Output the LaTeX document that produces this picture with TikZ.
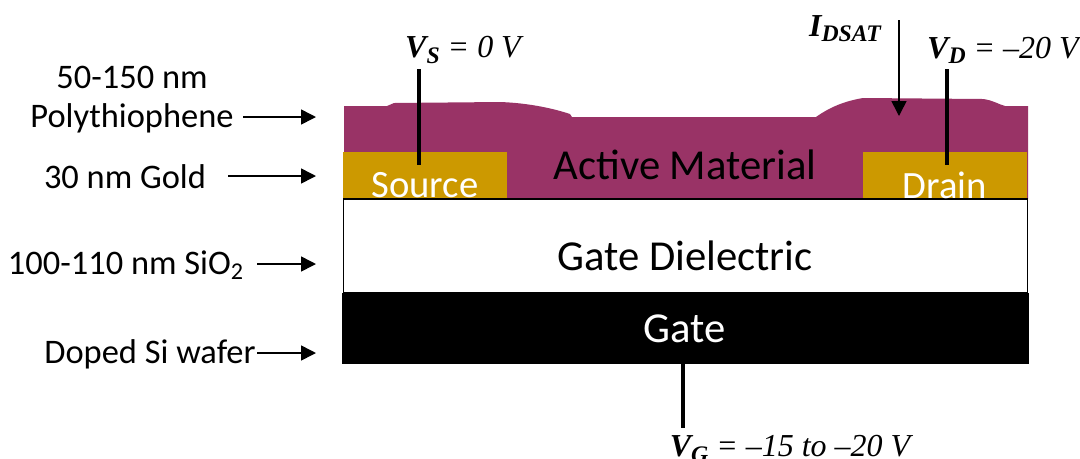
\documentclass[tikz,border=0pt]{standalone}
\usepackage{fontspec}
\usetikzlibrary{arrows.meta}
\setmainfont{Carlito}
\newfontfamily\volt{Liberation Serif}
\newcommand{\voltsub}[1]{\raisebox{-0.35ex}{\fontsize{13.5}{15}\selectfont\bfseries\itshape #1}}
\definecolor{polymer}{HTML}{993366}
\definecolor{gold}{HTML}{CC9900}
\tikzset{
	layerlabel/.style={inner sep=0pt, font=\fontsize{19.6}{22}\selectfont},
	devicelabel/.style={inner sep=0pt, font=\fontsize{24.3}{28}\selectfont},
	contactlabel/.style={inner sep=0pt, text=white, font=\fontsize{22}{26}\selectfont},
	voltlabel/.style={inner sep=0pt, font=\fontsize{18.2}{22}\selectfont\volt\itshape},
	goldbox/.style={shape=rectangle, fill=gold, minimum width=164*0.02cm, minimum height=47*0.02cm, inner sep=0pt},
	pointer/.style={-{Triangle[length=8.5pt,width=8.5pt]}, line width=0.9pt},
	wire/.style={-, line width=2.2pt}
}
\begin{document}
\begin{tikzpicture}[x=0.02cm, y=-0.02cm]
	\useasboundingbox (0, 0) rectangle (1080, 458);
	
	% polymer film
	\fill[polymer] (344, 106) -- (387, 106) -- (394, 103) -- (500, 102)
		.. controls (530, 103) and (555, 109) .. (570, 114) -- (572, 117) -- (816, 117)
		.. controls (830, 107) and (845, 101) .. (863, 98) -- (983, 99)
		.. controls (992, 100) and (998, 104) .. (1005, 106) -- (1028, 106)
		-- (1028, 199) -- (344, 199) -- cycle;
	
	\node[goldbox] (source) at (425, 175.5) {};
	\node[goldbox] (drain) at (945, 175.5) {};
	\node[shape=rectangle, draw=black, line width=0.7pt, fill=white, minimum width=684*0.02cm, minimum height=94*0.02cm, inner sep=0pt] (dielectric) at (685.5, 246) {};
	\node[shape=rectangle, fill=black, minimum width=687*0.02cm, minimum height=71*0.02cm, inner sep=0pt] (gate) at (685.5, 328.5) {};
	
	\node[contactlabel] (sourcetext) at (425, 185.5) {Source};
	\node[contactlabel] (draintext) at (945, 185.5) {Drain};
	\node[devicelabel] (activetext) at (685, 165) {Active Material};
	\node[devicelabel] (dielectrictext) at (685, 256) {Gate Dielectric};
	\node[devicelabel, text=white] (gatetext) at (685, 329) {Gate};
	
	\node[layerlabel] (thick) at (132, 77) {50-150 nm};
	\node[layerlabel] (poly) at (132, 118) {Polythiophene};
	\node[layerlabel] (goldtext) at (125, 177) {30 nm Gold};
	\node[layerlabel] (oxide) at (126, 265) {100-110 nm SiO\textsubscript{2}};
	\node[layerlabel] (wafer) at (150, 354) {Doped Si wafer};
	
	\node[voltlabel] (vs) at (463, 50) {{\bfseries V}\voltsub{S} = 0 V};
	\node[voltlabel] (vd) at (1003, 50) {{\bfseries V}\voltsub{D} = –20 V};
	\node[voltlabel] (vg) at (790, 449) {{\bfseries V}\voltsub{G} = –15 to –20 V};
	\node[voltlabel] (idsat) at (845, 29) {{\bfseries I}\voltsub{DSAT}};
	
	\coordinate (polystart) at (243, 117);
	\coordinate (polyend) at (316, 117);
	\coordinate (goldstart) at (228, 176);
	\coordinate (goldend) at (316, 176);
	\coordinate (oxidestart) at (257, 264);
	\coordinate (oxideend) at (316, 264);
	\coordinate (waferstart) at (257, 353);
	\coordinate (waferend) at (316, 353);
	\coordinate (idstart) at (899, 20);
	\coordinate (idend) at (899, 116);
	\coordinate (vstop) at (419, 69);
	\coordinate (vsend) at (419, 165);
	\coordinate (vdtop) at (947, 69);
	\coordinate (vdend) at (947, 165);
	\coordinate (vgtop) at (683, 364);
	\coordinate (vgend) at (683, 428);
	
	\path[pointer] (polystart) edge (polyend);
	\path[pointer] (goldstart) edge (goldend);
	\path[pointer] (oxidestart) edge (oxideend);
	\path[pointer] (waferstart) edge (waferend);
	\path[pointer] (idstart) edge (idend);
	\path[wire] (vstop) edge (vsend);
	\path[wire] (vdtop) edge (vdend);
	\path[wire] (vgtop) edge (vgend);
	
\end{tikzpicture}
\end{document}
